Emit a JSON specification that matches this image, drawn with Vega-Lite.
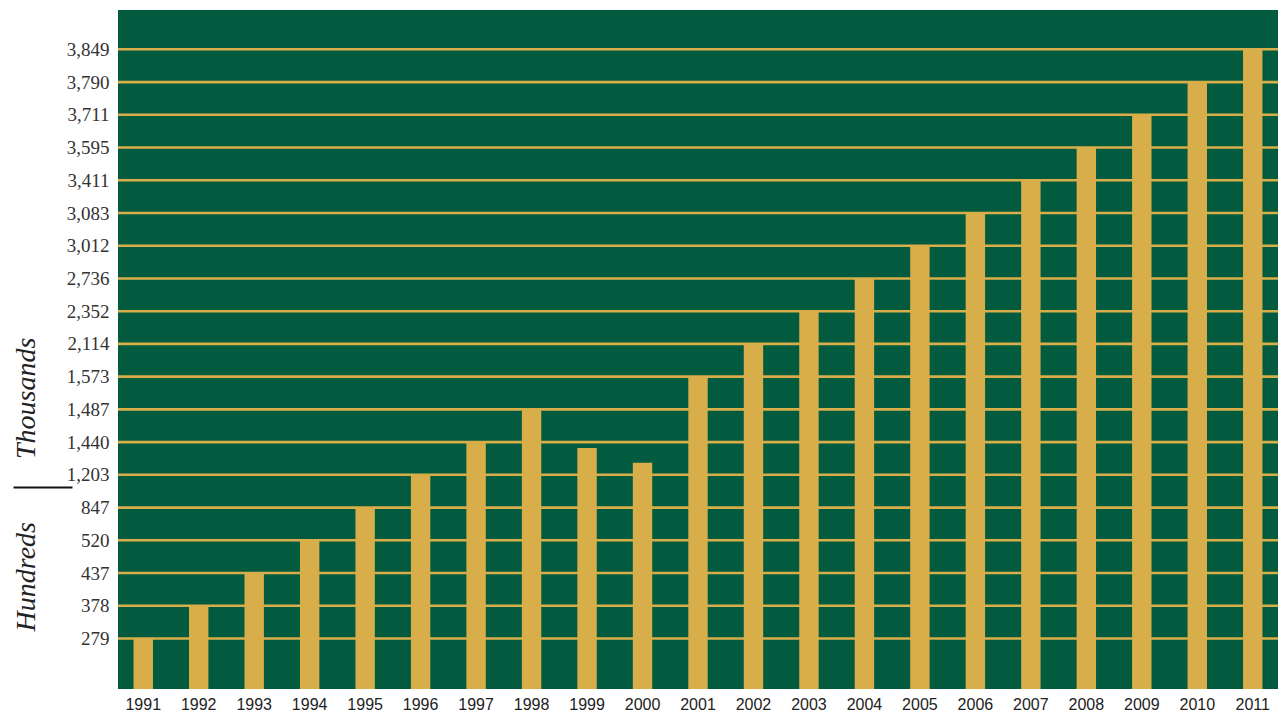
{
  "$schema": "https://vega.github.io/schema/vega-lite/v6.json",
  "autosize": "none",
  "width": 1160,
  "height": 679,
  "padding": {"left": 118, "top": 10, "right": 3, "bottom": 24},
  "background": "#ffffff",
  "config": {
    "view": {"fill": "#025a3f", "stroke": null}
  },
  "data": {
    "values": [
      {"year": "1991", "value": 279, "labeled": true},
      {"year": "1992", "value": 378, "labeled": true},
      {"year": "1993", "value": 437, "labeled": true},
      {"year": "1994", "value": 520, "labeled": true},
      {"year": "1995", "value": 847, "labeled": true},
      {"year": "1996", "value": 1203, "labeled": true},
      {"year": "1997", "value": 1440, "labeled": true},
      {"year": "1998", "value": 1487, "labeled": true},
      {"year": "1999", "value": 1398, "labeled": false},
      {"year": "2000", "value": 1290, "labeled": false},
      {"year": "2001", "value": 1573, "labeled": true},
      {"year": "2002", "value": 2114, "labeled": true},
      {"year": "2003", "value": 2352, "labeled": true},
      {"year": "2004", "value": 2736, "labeled": true},
      {"year": "2005", "value": 3012, "labeled": true},
      {"year": "2006", "value": 3083, "labeled": true},
      {"year": "2007", "value": 3411, "labeled": true},
      {"year": "2008", "value": 3595, "labeled": true},
      {"year": "2009", "value": 3711, "labeled": true},
      {"year": "2010", "value": 3790, "labeled": true},
      {"year": "2011", "value": 3849, "labeled": true}
    ]
  },
  "resolve": {"axis": {"y": "independent"}},
  "layer": [
    {
      "transform": [{"filter": "datum.labeled"}],
      "mark": {"type": "rule", "color": "#d8ae4a", "strokeWidth": 2.6},
      "encoding": {
        "y": {
          "field": "value",
          "type": "quantitative",
          "scale": {
            "domain": [0, 279, 378, 437, 520, 847, 1203, 1440, 1487, 1573, 2114, 2352, 2736, 3012, 3083, 3411, 3595, 3711, 3790, 3849],
            "range": [679, 628.5, 595.8, 563.0, 530.3, 497.6, 464.8, 432.1, 399.4, 366.6, 333.9, 301.2, 268.5, 235.7, 203.0, 170.3, 137.5, 104.8, 72.1, 39.3],
            "zero": false,
            "nice": false
          },
          "axis": {
            "orient": "left",
            "values": [1070],
            "labels": false,
            "domain": false,
            "grid": false,
            "title": null,
            "offset": 46,
            "tickSize": 59,
            "tickWidth": 2,
            "tickColor": "#111111"
          }
        }
      }
    },
    {
      "mark": {"type": "bar", "color": "#d8ae4a"},
      "encoding": {
        "x": {
          "field": "year",
          "type": "ordinal",
          "scale": {"paddingInner": 0.65, "paddingOuter": 0.28},
          "axis": {
            "title": null,
            "labelAngle": 0,
            "ticks": false,
            "domain": false,
            "labelFont": "Liberation Sans",
            "labelFontSize": 16,
            "labelColor": "#222222",
            "labelPadding": 7
          }
        },
        "y": {
          "field": "value",
          "type": "quantitative",
          "axis": {
            "orient": "left",
            "values": [279, 378, 437, 520, 847, 1203, 1440, 1487, 1573, 2114, 2352, 2736, 3012, 3083, 3411, 3595, 3711, 3790, 3849],
            "format": ",d",
            "grid": false,
            "domain": false,
            "ticks": false,
            "labelFont": "Liberation Serif",
            "labelFontSize": 19,
            "labelColor": "#333333",
            "labelPadding": 9,
            "title": "Hundreds\u00a0\u00a0\u00a0\u00a0\u00a0\u00a0\u00a0\u00a0\u00a0Thousands",
            "titleFont": "Liberation Serif",
            "titleFontStyle": "italic",
            "titleFontWeight": "normal",
            "titleFontSize": 28,
            "titleColor": "#222222",
            "titleBaseline": "alphabetic",
            "titleY": 474,
            "titleX": -84
          }
        }
      }
    }
  ]
}
